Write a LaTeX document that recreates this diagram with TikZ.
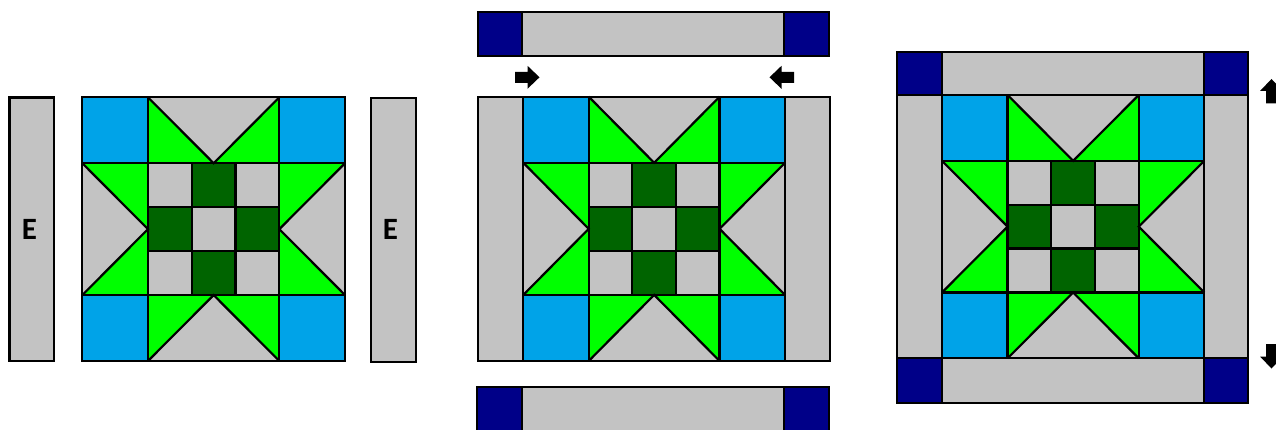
\documentclass[tikz,border=0pt]{standalone}
\usepackage{fontspec}
\setmainfont{Carlito}
\definecolor{qgray}{HTML}{C3C3C3}
\definecolor{qblue}{HTML}{00A3E8}
\definecolor{qgreen}{HTML}{00FF00}
\definecolor{qdark}{HTML}{006400}
\definecolor{qnavy}{HTML}{000088}
\tikzset{
  qline/.style={draw=black,line width=2.2pt},
  strip/.style={fill=qgray,qline},
  navysq/.style={fill=qnavy,qline},
  elabel/.style={font=\bfseries\fontsize{31}{31}\selectfont,inner sep=0pt},
  starblock/.pic={
    \fill[qgray] (0,0) rectangle (4,4);
    \fill[qblue] (0,0) rectangle (1,1);
    \fill[qblue] (3,0) rectangle (4,1);
    \fill[qblue] (0,3) rectangle (1,4);
    \fill[qblue] (3,3) rectangle (4,4);
    \fill[qgreen] (1,0)--(1,1)--(2,1)--cycle;
    \fill[qgreen] (3,0)--(3,1)--(2,1)--cycle;
    \fill[qgreen] (1,4)--(1,3)--(2,3)--cycle;
    \fill[qgreen] (3,4)--(3,3)--(2,3)--cycle;
    \fill[qgreen] (0,1)--(1,1)--(1,2)--cycle;
    \fill[qgreen] (0,3)--(1,3)--(1,2)--cycle;
    \fill[qgreen] (4,1)--(3,1)--(3,2)--cycle;
    \fill[qgreen] (4,3)--(3,3)--(3,2)--cycle;
    \fill[qdark] (1.6667,1) rectangle (2.3333,1.6667);
    \fill[qdark] (1,1.6667) rectangle (1.6667,2.3333);
    \fill[qdark] (2.3333,1.6667) rectangle (3,2.3333);
    \fill[qdark] (1.6667,2.3333) rectangle (2.3333,3);
    \draw[qline] (1,0)--(1,4) (3,0)--(3,4) (0,1)--(4,1) (0,3)--(4,3);
    \draw[qline] (1.6667,1)--(1.6667,3) (2.3333,1)--(2.3333,3)
                 (1,1.6667)--(3,1.6667) (1,2.3333)--(3,2.3333);
    \draw[qline] (1,0)--(2,1)--(3,0) (1,4)--(2,3)--(3,4)
                 (0,1)--(1,2)--(0,3) (4,1)--(3,2)--(4,3);
    \draw[qline] (0,0) rectangle (4,4);
  },
  qarrow/.pic={
    \fill[black] (-12.5,-5.5)--(0,-5.5)--(0,-11.5)--(12,0)--(0,11.5)--(0,5.5)--(-12.5,5.5)--cycle;
  }
}
\begin{document}
\begin{tikzpicture}[x=1pt,y=-1pt]
\useasboundingbox (0,0) rectangle (1276,430);
% ---- left group
\draw[strip] (9.5,97.5) rectangle (53.7,361);
\draw[strip] (371,98.3) rectangle (415.7,361.7);
\node[elabel] (e1) at (29.5,229.5) {E};
\node[elabel] (e2) at (390.5,229.5) {E};
\pic[xscale=65.675,yscale=65.925] (b1) at (82.3,97.3) {starblock};
% ---- middle group
\draw[strip] (478.3,96.7) rectangle (523.3,361);
\draw[strip] (785,96.7) rectangle (829.7,361);
\pic[xscale=65.425,yscale=66.075] (b2) at (523.3,96.7) {starblock};
\draw[strip] (478.3,11.7) rectangle (829,55.7);
\draw[navysq] (478.3,11.7) rectangle (522.3,55.7);
\draw[navysq] (784.3,11.7) rectangle (829,55.7);
\draw[strip] (477.3,386.7) rectangle (829,433);
\draw[navysq] (477.3,386.7) rectangle (521.7,433);
\draw[navysq] (784.3,386.7) rectangle (829,433);
\pic (a1) at (527.5,77.3) {qarrow};
\pic[rotate=180] (a2) at (781.5,77.3) {qarrow};
% ---- right group
\draw[strip] (897.3,95) rectangle (942,358.3);
\draw[strip] (1204.3,95) rectangle (1248.3,358.3);
\draw[strip] (897.3,51.7) rectangle (1248.3,95);
\draw[navysq] (897.3,51.7) rectangle (942,95);
\draw[navysq] (1204.3,51.7) rectangle (1248.3,95);
\draw[strip] (897.3,358.3) rectangle (1248.3,402.7);
\draw[navysq] (897.3,358.3) rectangle (942,402.7);
\draw[navysq] (1204.3,358.3) rectangle (1248.3,402.7);
\pic[xscale=65.575,yscale=65.825] (b3) at (942,95) {starblock};
\pic[rotate=90] (a3) at (1271.5,91) {qarrow};
\pic[rotate=-90] (a4) at (1271.5,356.5) {qarrow};
\end{tikzpicture}
\end{document}
